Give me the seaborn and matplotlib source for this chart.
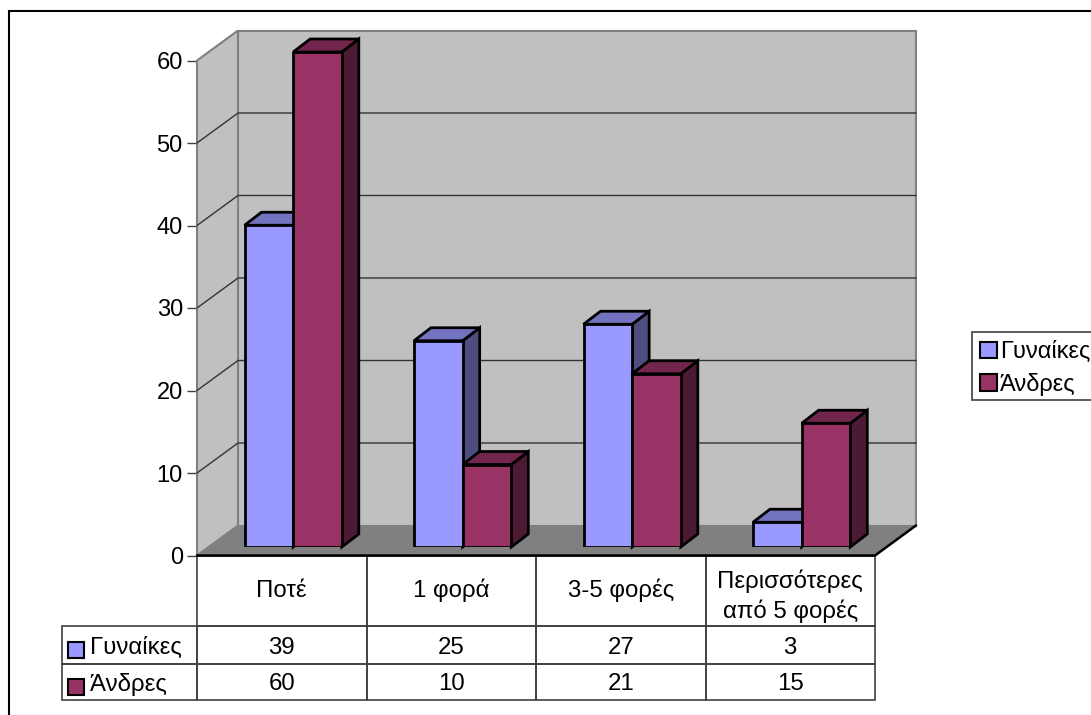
import matplotlib
matplotlib.use('Agg')
import matplotlib.pyplot as plt
from matplotlib.lines import Line2D
from matplotlib.patches import Polygon, Rectangle
from matplotlib.table import Table
from matplotlib.transforms import IdentityTransform
import seaborn as sns
import pandas as pd

# data
categories = ['Ποτέ', '1 φορά', '3-5 φορές', 'Περισσότερες\nαπό 5 φορές']
series_names = ['Γυναίκες', 'Άνδρες']
women = [39, 25, 27, 3]
men = [60, 10, 21, 15]
colors = ['#9999FF', '#993366']
yticks = [0, 10, 20, 30, 40, 50, 60]

df = pd.DataFrame({
    'category': categories * 2,
    'series': [series_names[0]] * 4 + [series_names[1]] * 4,
    'value': women + men,
})

sns.set_theme(style='white')
plt.rcParams['font.family'] = ['Liberation Sans', 'DejaVu Sans']
plt.rcParams['text.color'] = 'black'

W, H = 1091, 715
FONT = 17.3
fig = plt.figure(figsize=(W / 100, H / 100), dpi=100)


def axes_box(left, right, top, bottom):
    # pixel box (y measured from the top of the image) to figure fractions
    return [left / W, 1 - bottom / H, (right - left) / W, (bottom - top) / H]


def shape(ax, points, face, edge='none', lw=1.0, z=1):
    ax.add_patch(Polygon(points, closed=True, facecolor=face, edgecolor=edge, linewidth=lw,
                         transform=IdentityTransform(), clip_on=False, zorder=z))


# outer frame: only the top and left edges fall inside the image
fig.add_artist(Line2D([8.5 / W, 8.5 / W, 1], [0, 1 - 10.5 / H, 1 - 10.5 / H], transform=fig.transFigure,
                      color='black', linewidth=1.5, solid_joinstyle='miter'))

# front plane of the chart box, carries the value axis
ax = fig.add_axes(axes_box(197, 875, 60.5, 555.5))
ax.set_xlim(-0.5, 3.5)
ax.set_ylim(0, 60)
ax.patch.set_visible(False)
ax.set_yticks(yticks)
ax.set_xticks([])
ax.tick_params(axis='y', left=True, length=7.2, width=1.0, color='#404040', pad=3, labelsize=17,
               labelcolor='black')
for name, spine in ax.spines.items():
    spine.set_visible(False)

DX, DY = 41, 30
x0, y0 = ax.transData.transform((-0.5, 0))
x1, y1 = ax.transData.transform((3.5, 60))

# walls and floor
shape(ax, [(x0 + DX, y0 + DY), (x1 + DX, y0 + DY), (x1 + DX, y1 + DY), (x0 + DX, y1 + DY)],
      '#C0C0C0', '#808080', 1.5, 0.5)
shape(ax, [(x0, y0), (x0 + DX, y0 + DY), (x0 + DX, y1 + DY), (x0, y1)], '#C0C0C0', '#808080', 1.5, 0.6)
shape(ax, [(x0, y0), (x1, y0), (x1 + DX, y0 + DY), (x0 + DX, y0 + DY)], '#808080', 'none', 1.0, 0.7)

for t in yticks[1:-1]:
    _, yy = ax.transData.transform((0, t))
    ax.plot([x0, x0 + DX, x1 + DX], [yy, yy + DY, yy + DY], color='#333333', lw=1.0,
            transform=IdentityTransform(), clip_on=False, zorder=0.8)
ax.plot([x0, x1, x1 + DX], [y0, y0, y0 + DY], color='black', lw=1.8,
        transform=IdentityTransform(), clip_on=False, zorder=0.9, solid_joinstyle='miter')

# bars sit part way into the depth of the box
bar_ax = fig.add_axes(axes_box(208.4, 886.4, 52, 547))
sns.barplot(data=df, x='category', y='value', hue='series', hue_order=series_names, palette=colors,
            order=categories, width=0.574, gap=0, saturation=1, edgecolor='black', linewidth=2,
            legend=False, ax=bar_ax)
bar_ax.set_xlim(-0.5, 3.5)
bar_ax.set_ylim(0, 60)
bar_ax.axis('off')

BX, BY = 17, 13
bars = sorted(bar_ax.patches, key=lambda r: r.get_x())
for i, rect in enumerate(bars):
    fx0, fy0 = bar_ax.transData.transform((rect.get_x(), 0))
    fx1, fy1 = bar_ax.transData.transform((rect.get_x() + rect.get_width(), rect.get_height()))
    r, g, b, _ = rect.get_facecolor()
    z = 3 + i
    shape(bar_ax, [(fx1, fy0), (fx1 + BX, fy0 + BY), (fx1 + BX, fy1 + BY), (fx1, fy1)],
          (r * 0.5, g * 0.5, b * 0.5), 'black', 2, z)
    shape(bar_ax, [(fx0, fy1), (fx1, fy1), (fx1 + BX, fy1 + BY), (fx0 + BX, fy1 + BY)],
          (r * 0.75, g * 0.75, b * 0.75), 'black', 2, z)
    rect.set_zorder(z + 0.5)

# data table under the chart
table = Table(ax, bbox=[(62 - 197) / 678, -(700 - 555.5) / 495, (875 - 62) / 678, (700 - 555.5) / 495])
table.auto_set_font_size(False)
row_labels = [''] + series_names
rows = [categories, women, men]
row_heights = [70.5, 38, 36]
for row, values in enumerate(rows):
    label_cell = table.add_cell(row, 0, 135 / 678, row_heights[row] / 495, text=row_labels[row], loc='left',
                                edgecolor='#404040', facecolor='none')
    label_cell.PAD = 28 / 135
    label_cell.set_linewidth(1.2)
    label_cell.get_text().set_verticalalignment('center_baseline')
    if row == 0:
        label_cell.visible_edges = ''
    for col, value in enumerate(values):
        cell = table.add_cell(row, col + 1, 169.5 / 678, row_heights[row] / 495, text=str(value), loc='center',
                              edgecolor='#404040', facecolor='none')
        cell.set_linewidth(1.2)
        cell.get_text().set_linespacing(1.35)
        if row > 0 or '\n' in str(value):
            cell.get_text().set_verticalalignment('center_baseline')
table.set_fontsize(FONT)
ax.add_table(table)

# keys in the table row labels
for color, key_top in zip(colors, [642, 679]):
    fig.add_artist(Rectangle((68 / W, 1 - (key_top + 16) / H), 16 / W, 16 / H, transform=fig.transFigure,
                             facecolor=color, edgecolor='black', linewidth=1.5))

# legend box
fig.add_artist(Rectangle((972 / W, 1 - 400 / H), 125 / W, 68 / H, transform=fig.transFigure,
                         facecolor='white', edgecolor='#404040', linewidth=1.2))
legend_handles = [Rectangle((0, 0), 1, 1, facecolor=c, edgecolor='black', linewidth=1.5) for c in colors]
fig.legend(legend_handles, series_names, loc='upper left', bbox_to_anchor=(972 / W, 1 - 333 / H),
           fontsize=17, frameon=False, borderaxespad=0,
           handlelength=0.72, handleheight=0.72, handletextpad=0.1, labelspacing=0.4,
           borderpad=0.35, labelcolor='black')

fig.savefig('out.png', dpi=100)
